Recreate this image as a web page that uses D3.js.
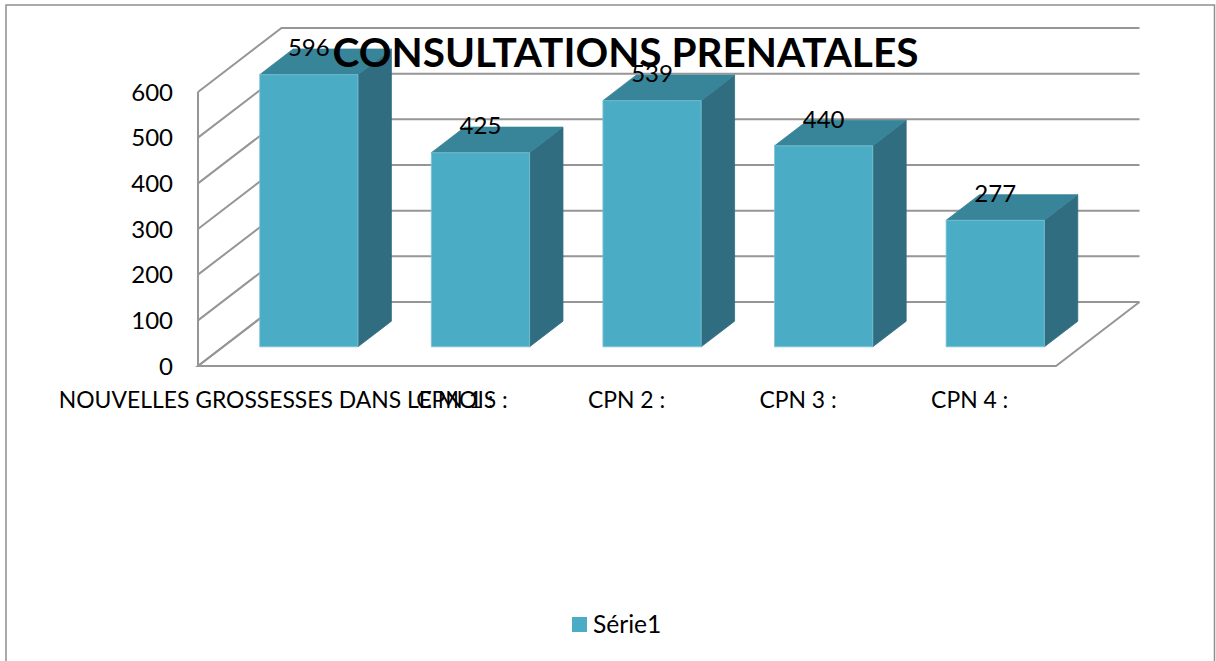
<!DOCTYPE html>
<html><head><meta charset="utf-8">
<script src="https://cdn.jsdelivr.net/npm/d3@7"></script>
<style>html,body{margin:0;padding:0;background:#fff;overflow:hidden}svg{display:block}text{font-family:Lato,"Open Sans",sans-serif;fill:#000}</style>
</head><body><svg id="c" width="1216" height="661"></svg>
<script>
const categories=["NOUVELLES GROSSESSES DANS LE MOIS :","CPN 1 :","CPN 2 :","CPN 3 :","CPN 4 :"];
const values=[596,425,539,440,277];
const tickValues=[0,100,200,300,400,500,600];
const seriesName="Série1";
const titleText="CONSULTATIONS PRENATALES";

const svg=d3.select("#c");
const grid="#969696",front="#4BACC6",side="#316D80",top_="#388499";
svg.append("rect").attr("x",6).attr("y",5).attr("width",1208.5).attr("height",670).attr("fill","#fff").attr("stroke","#8e8e8e").attr("stroke-width",1.5);

const x=d3.scaleBand().domain(categories).range([198,1056]).paddingInner(0.4274).paddingOuter(0.2137);
const y=d3.scaleLinear().domain([0,600]).range([366,92]);
// oblique depth projection: depth 0 = front plane, 1 = back wall
const DX=83.5,DY=64;
const px=(vx,d)=>vx+d*DX, py=(v,d)=>y(v)-d*DY;
const line=d3.line();

const g=svg.append("g").attr("fill","none").attr("stroke",grid).attr("stroke-width",2);
// floor and left wall edge
g.append("path").attr("d",line([[px(198,1),py(0,1)],[px(198,0),py(0,0)],[px(1056,0),py(0,0)],[px(1056,1),py(0,1)]]));
g.append("path").attr("d",line([[198,y(0)],[198,y(600)]]));
tickValues.forEach(t=>{
  g.append("path").attr("d",line([[px(198,0),py(t,0)],[px(198,1),py(t,1)],[px(1056,1),py(t,1)]]));
});

// bars
const z0=0.3,z1=0.7;
const bars=svg.selectAll("g.bar").data(values).join("g").attr("class","bar");
const edge="#7cc3d6";
bars.each(function(v,i){
  const b=d3.select(this),l=x(categories[i]),r=l+x.bandwidth();
  b.append("path").attr("fill",side).attr("stroke",side).attr("stroke-width",.8)
   .attr("d",line([[px(r,z0),py(0,z0)],[px(r,z1),py(0,z1)],[px(r,z1),py(v,z1)],[px(r,z0),py(v,z0)]])+"Z");
  b.append("path").attr("fill",top_).attr("stroke",top_).attr("stroke-width",.8)
   .attr("d",line([[px(l,z0),py(v,z0)],[px(l,z1),py(v,z1)],[px(r,z1),py(v,z1)],[px(r,z0),py(v,z0)]])+"Z");
  b.append("path").attr("fill",front).attr("stroke",edge).attr("stroke-width",.8)
   .attr("d",line([[px(l,z0),py(0,z0)],[px(r,z0),py(0,z0)],[px(r,z0),py(v,z0)],[px(l,z0),py(v,z0)]])+"Z");
});

// axes
const yAxis=svg.append("g").attr("transform","translate(173,0)")
 .call(d3.axisLeft(y).tickValues(tickValues).tickSize(0).tickPadding(0));
yAxis.select(".domain").remove();
yAxis.selectAll("text").style("font-size","24px").attr("dy","0.34em");

const xAxis=svg.append("g").attr("transform","translate(-0.5,400)")
 .call(d3.axisBottom(x).tickSize(0).tickPadding(0));
xAxis.select(".domain").remove();
xAxis.selectAll("text").style("font-size","22.9px").attr("y",0).attr("dy","0.36em");

// title
svg.append("text").attr("x",625.5).attr("y",52).attr("text-anchor","middle").attr("dy","0.36em")
 .style("font-size","40.5px").style("font-weight","700").text(titleText);

// value labels
svg.selectAll("text.val").data(values).join("text").attr("class","val")
 .attr("x",(v,i)=>px(x(categories[i])+x.bandwidth()/2,z0))
 .attr("y",v=>py(v,z0)-27).attr("dy","0.36em").attr("text-anchor","middle")
 .style("font-size","24px").text(v=>v);

// legend
svg.append("rect").attr("x",572).attr("y",617).attr("width",15).attr("height",15).attr("fill",front);
svg.append("text").attr("x",593).attr("y",624).attr("dy","0.36em").style("font-size","24.6px").text(seriesName);
</script></body></html>
